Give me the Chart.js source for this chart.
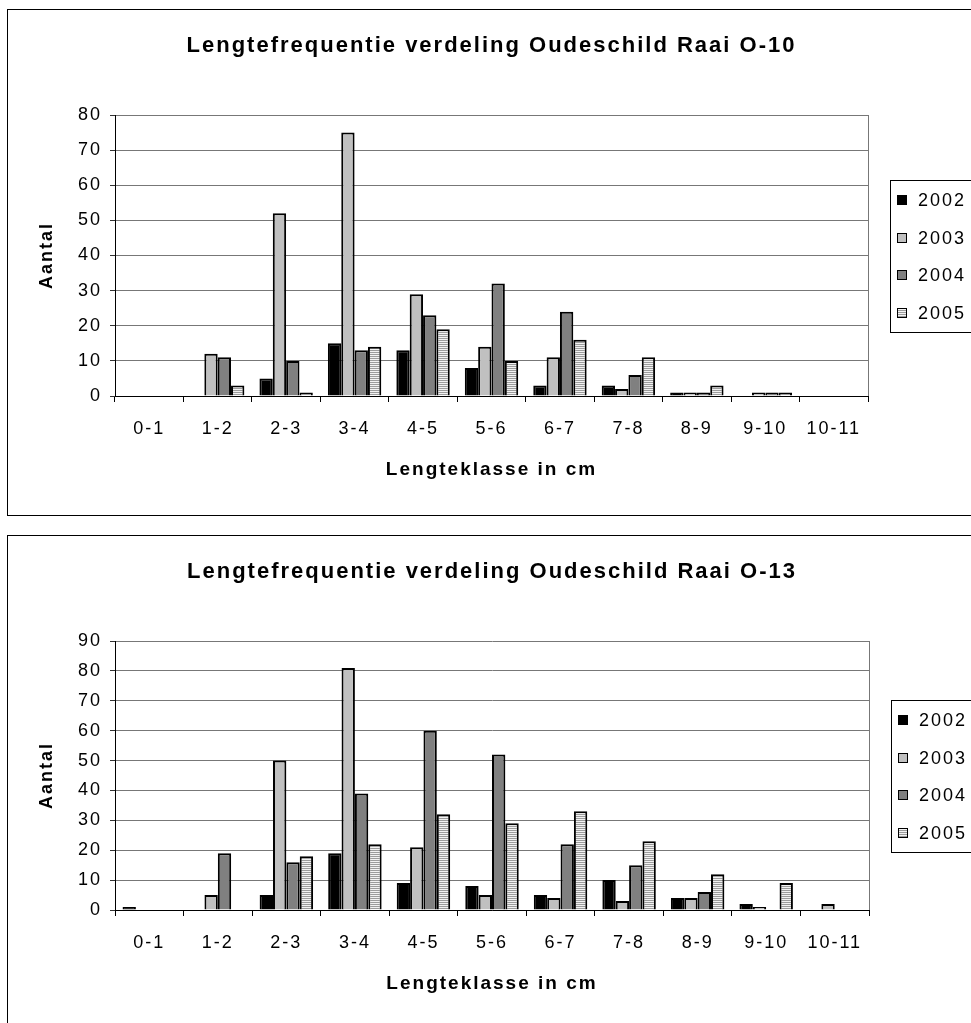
<!DOCTYPE html>
<html>
<head>
<meta charset="utf-8">
<script src="https://cdn.jsdelivr.net/npm/chart.js@4.4.1/dist/chart.umd.min.js"></script>
<style>
  html, body { margin: 0; padding: 0; background: #fff; overflow: hidden; width: 971px; height: 1023px; }
  .frame { position: absolute; border: 1px solid #000; background: #fff; }
  canvas { display: block; }
</style>
</head>
<body>
<div class="frame" style="left:7px; top:9px;"><canvas id="chartO10" width="990" height="505"></canvas></div>
<div class="frame" style="left:7px; top:535px;"><canvas id="chartO13" width="990" height="493"></canvas></div>
<script>
// Length classes (cm) on the x axis
const categories = ['0-1', '1-2', '2-3', '3-4', '4-5', '5-6', '6-7', '7-8', '8-9', '9-10', '10-11'];
const years = ['2002', '2003', '2004', '2005'];

// Raai O-10 counts per length class
const o10_2002 = [0, 0, 5, 15, 13, 8, 3, 3, 1, 0, 0];
const o10_2003 = [0, 12, 52, 75, 29, 14, 11, 2, 1, 1, 0];
const o10_2004 = [0, 11, 10, 13, 23, 32, 24, 6, 1, 1, 0];
const o10_2005 = [0, 3, 1, 14, 19, 10, 16, 11, 3, 1, 0];

// Raai O-13 counts per length class
const o13_2002 = [1, 0, 5, 19, 9, 8, 5, 10, 4, 2, 0];
const o13_2003 = [0, 5, 50, 81, 21, 5, 4, 3, 4, 1, 2];
const o13_2004 = [0, 19, 16, 39, 60, 52, 22, 15, 6, 0, 0];
const o13_2005 = [0, 0, 18, 22, 32, 29, 33, 23, 12, 9, 0];

// y-axis tick settings
const o10YMax = 80;
const o13YMax = 90;
const yStep = 10;

const FONT = "'Liberation Sans', Arial, sans-serif";
const SPACING = '2px';

// horizontal stripe fill for the 2005 series
function stripes() {
  const p = document.createElement('canvas');
  p.width = 4; p.height = 2;
  const g = p.getContext('2d');
  g.fillStyle = '#9c9c9c'; g.fillRect(0, 0, 4, 1);
  g.fillStyle = '#f2f2f2'; g.fillRect(0, 1, 4, 1);
  return document.createElement('canvas').getContext('2d').createPattern(p, 'repeat');
}
const fills = ['#000000', '#c0c0c0', '#808080', stripes()];

// wide letter spacing on all canvas text
const spacingPlugin = {
  id: 'spacing',
  beforeUpdate(c) { c.ctx.letterSpacing = SPACING; },
  beforeLayout(c) { c.ctx.letterSpacing = SPACING; },
  beforeDraw(c) { c.ctx.letterSpacing = SPACING; }
};

// right edge of the plot area
const plotEdge = {
  id: 'plotEdge',
  beforeDatasetsDraw(c) {
    const { ctx, chartArea: a } = c;
    ctx.save();
    ctx.strokeStyle = '#777';
    ctx.lineWidth = 1;
    ctx.beginPath();
    ctx.moveTo(Math.round(a.right) + 0.5, a.top);
    ctx.lineTo(Math.round(a.right) + 0.5, a.bottom);
    ctx.stroke();
    ctx.restore();
  }
};

// boxed legend to the right of the plot
const boxLegend = {
  id: 'boxLegend',
  afterDraw(c) {
    const { ctx, chartArea: a } = c;
    const cy = (a.top + a.bottom) / 2;
    const left = Math.round(a.right) + 22;
    const top = Math.round(cy - 76);
    ctx.save();
    ctx.letterSpacing = SPACING;
    ctx.strokeStyle = '#000';
    ctx.lineWidth = 1;
    ctx.strokeRect(left + 0.5, top + 0.5, 140, 152);
    ctx.font = '18px ' + FONT;
    ctx.textBaseline = 'middle';
    ctx.textAlign = 'left';
    c.data.datasets.forEach((ds, i) => {
      const y = Math.round(top + 20 + i * 37.5);
      ctx.fillStyle = ds.backgroundColor;
      ctx.fillRect(left + 7, y - 5, 10, 10);
      ctx.strokeRect(left + 7.5, y - 4.5, 9, 9);
      ctx.fillStyle = '#000';
      ctx.fillText(ds.label, left + 28, y + 1);
    });
    ctx.restore();
  }
};

function build(id, title, series, yMax, rightPad) {
  const datasets = series.map((vals, i) => ({
    label: years[i],
    data: vals,
    backgroundColor: fills[i],
    borderColor: '#000',
    borderWidth: 2,
    categoryPercentage: 0.78,
    barPercentage: 1.0
  }));
  return new Chart(document.getElementById(id), {
    type: 'bar',
    data: { labels: categories, datasets },
    plugins: [spacingPlugin, plotEdge, boxLegend],
    options: {
      responsive: false,
      animation: false,
      devicePixelRatio: 1,
      layout: { padding: { left: 0, top: 0, bottom: 0, right: rightPad } },
      plugins: {
        legend: { display: false },
        tooltip: { enabled: false },
        title: {
          display: true,
          fullSize: false,
          text: title,
          color: '#000',
          font: { family: FONT, size: 22, weight: 'bold', lineHeight: 1.2 },
          padding: { top: 23, bottom: 55.6 }
        }
      },
      scales: {
        x: {
          type: 'category',
          grid: { offset: true, drawOnChartArea: false, drawTicks: true, tickLength: 6, tickColor: '#000', color: '#000' },
          border: { display: true, color: '#000', width: 1 },
          ticks: { color: '#000', font: { family: FONT, size: 18, lineHeight: 1.2 }, padding: 16.2, maxRotation: 0, autoSkip: false },
          title: {
            display: true,
            text: 'Lengteklasse in cm',
            color: '#000',
            font: { family: FONT, size: 19, weight: 'bold', lineHeight: 1.2 },
            padding: { top: 0, bottom: 33.6 }
          },
          afterFit(s) { s.height = 119; }
        },
        y: {
          min: 0,
          max: yMax,
          ticks: { stepSize: yStep, color: '#000', font: { family: FONT, size: 18, lineHeight: 1.2 }, padding: 8 },
          grid: { color: '#777', lineWidth: 1, tickLength: 5, tickColor: '#333' },
          border: { display: true, color: '#000', width: 1 },
          title: {
            display: true,
            text: 'Aantal',
            color: '#000',
            font: { family: FONT, size: 18, weight: 'bold', lineHeight: 1.2 },
            padding: { top: 28, bottom: 0 }
          },
          afterFit(s) { s.width = 107; }
        }
      }
    }
  });
}

build('chartO10', 'Lengtefrequentie verdeling Oudeschild Raai O-10',
  [o10_2002, o10_2003, o10_2004, o10_2005], o10YMax, 130);
build('chartO13', 'Lengtefrequentie verdeling Oudeschild Raai O-13',
  [o13_2002, o13_2003, o13_2004, o13_2005], o13YMax, 129);
</script>
</body>
</html>
